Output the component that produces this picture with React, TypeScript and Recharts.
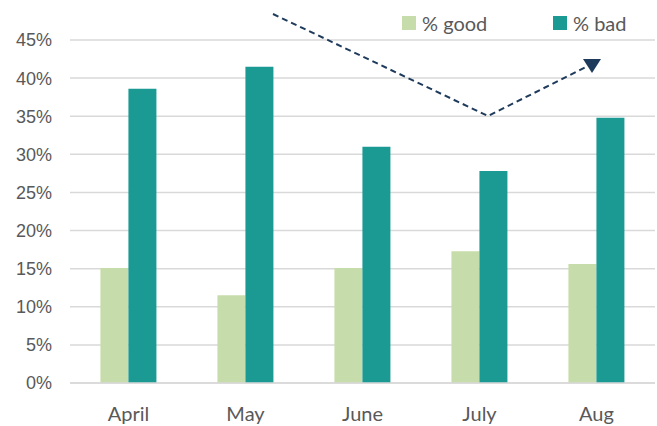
import { BarChart, Bar, XAxis, YAxis, CartesianGrid, Customized } from "recharts";

const months = ["April", "May", "June", "July", "Aug"];
const goodShare = [0.151, 0.115, 0.151, 0.173, 0.156];
const badShare = [0.386, 0.415, 0.31, 0.278, 0.348];
const yTicks = [0, 0.05, 0.1, 0.15, 0.2, 0.25, 0.3, 0.35, 0.4, 0.45];

const GOOD = "#c6dcaa";
const BAD = "#1b9a94";
const TEXT = "#595959";
const FONT = "Lato, 'Open Sans', sans-serif";

const rows = months.map((m, i) => ({ month: m, good: goodShare[i], bad: badShare[i] }));

// dashed trend arrow drawn over the plot (annotation only)
function TrendArrow() {
  return (
    <g>
      <polyline
        points="273,14 488,116 588,66"
        fill="none"
        stroke="#1f3b5c"
        strokeWidth={2}
        strokeDasharray="6 4"
      />
      <polygon points="583,59 601,59 592,73" fill="#1f3b5c" />
    </g>
  );
}

function LegendBox() {
  const item = (color: string, label: string, left: number) => (
    <div style={{ position: "absolute", left, top: 11, display: "flex", alignItems: "center" }}>
      <div style={{ width: 14, height: 14, background: color, marginRight: 6 }} />
      <span style={{ fontFamily: FONT, fontSize: 20, color: TEXT }}>{label}</span>
    </div>
  );
  return (
    <>
      {item(GOOD, "% good", 402)}
      {item(BAD, "% bad", 553)}
    </>
  );
}

export default function App() {
  return (
    <div style={{ position: "absolute", left: 0, top: 0, width: 657, height: 426, background: "#fff" }}>
      <BarChart
        width={657}
        height={426}
        data={rows}
        margin={{ top: 40, right: 2, bottom: 0, left: 0 }}
        barCategoryGap="26%"
        barGap={0}
      >
        <CartesianGrid vertical={false} stroke="#d9d9d9" strokeWidth={1.5} />
        <XAxis
          dataKey="month"
          height={43}
          tickLine={false}
          axisLine={{ stroke: "#d9d9d9", strokeWidth: 1.5 }}
          tickMargin={18}
          tick={{ fill: TEXT, fontSize: 20, fontFamily: FONT }}
        />
        <YAxis
          width={70}
          domain={[0, 0.45]}
          ticks={yTicks}
          interval={0}
          tickLine={false}
          axisLine={false}
          tickMargin={12}
          tickFormatter={(v: number) => `${Math.round(v * 100)}%`}
          tick={{ fill: TEXT, fontSize: 18, fontFamily: "'Liberation Sans', Arial, sans-serif" }}
        />
        <Bar dataKey="good" fill={GOOD} isAnimationActive={false} />
        <Bar dataKey="bad" fill={BAD} isAnimationActive={false} />
        <Customized component={TrendArrow} />
      </BarChart>
      <LegendBox />
    </div>
  );
}
